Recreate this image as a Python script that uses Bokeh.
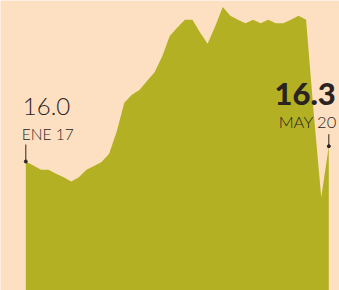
from bokeh.plotting import figure
from bokeh.models import ColumnDataSource, Range1d
from bokeh.embed import file_html
from bokeh.resources import INLINE
from bokeh.core.properties import value

# Monthly values, Jan 2017 .. May 2020
values = [16.0, 15.92, 15.84, 15.84, 15.76, 15.69, 15.61, 15.69, 15.84, 15.91,
          15.99, 16.15, 16.59, 17.15, 17.31, 17.40, 17.58, 17.75, 18.06, 18.46,
          18.63, 18.78, 18.78, 18.53, 18.31, 18.65, 19.03, 18.86, 18.78, 18.71,
          18.78, 18.71, 18.78, 18.71, 18.71, 18.78, 18.86, 18.78, 16.96, 15.30,
          16.30]
idx = list(range(len(values)))
first_label = ["16.0", "ENE 17"]
last_label = ["16.3", "MAY 20"]

BG = "#fde0c2"
AREA = "#b3b123"
INK = "#2b2321"

W, H = 339, 290
x0, x1 = -3.340, 41.41
y0, y1 = 13.471, 19.157
upp = (y1 - y0) / H  # data units per pixel

p = figure(width=W, height=H, output_backend="svg", toolbar_location=None,
           x_range=Range1d(x0, x1), y_range=Range1d(y0, y1), min_border=0,
           background_fill_color=BG, border_fill_color=BG, outline_line_color=None)
p.axis.visible = False
p.grid.visible = False

base = [y0 - 1] * len(values)
src = ColumnDataSource(dict(x=idx, y=values, b=base))
p.varea(x="x", y1="b", y2="y", source=src, fill_color=AREA)

# markers
i0, v0 = idx[0], values[0]
i1, v1 = idx[-1], values[-1]
p.segment(x0=[i0], y0=[v0], x1=[i0], y1=[v0 + 17 * upp], line_color=INK, line_width=1)
p.segment(x0=[i1], y0=[v1], x1=[i1], y1=[v1 + 12 * upp], line_color=INK, line_width=1)
p.scatter(x=[i0, i1], y=[v0, v1], size=3, color=INK)

p.text(x=[i0], y=[v0 + 55 * upp], text=[first_label[0]], x_offset=-3,
       text_font=value("Lato Light"), text_font_size="24px", text_color=INK,
       text_align="left", text_baseline="alphabetic")
p.text(x=[i0], y=[v0 + 28 * upp], text=[first_label[1]], x_offset=-4,
       text_font=value("Lato Light"), text_font_size="15.5px", text_color=INK,
       text_align="left", text_baseline="alphabetic")
p.text(x=[i1], y=[v1 + 52.5 * upp], text=[last_label[0]], x_offset=7,
       text_font=value("Lato Black"), text_font_size="31px", text_color=INK,
       text_font_style="bold", text_align="right", text_baseline="alphabetic")
p.text(x=[i1], y=[v1 + 24.5 * upp], text=[last_label[1]], x_offset=8,
       text_font=value("Lato Light"), text_font_size="16.5px", text_color=INK,
       text_align="right", text_baseline="alphabetic")

open("out.html", "w").write(file_html(p, INLINE))
